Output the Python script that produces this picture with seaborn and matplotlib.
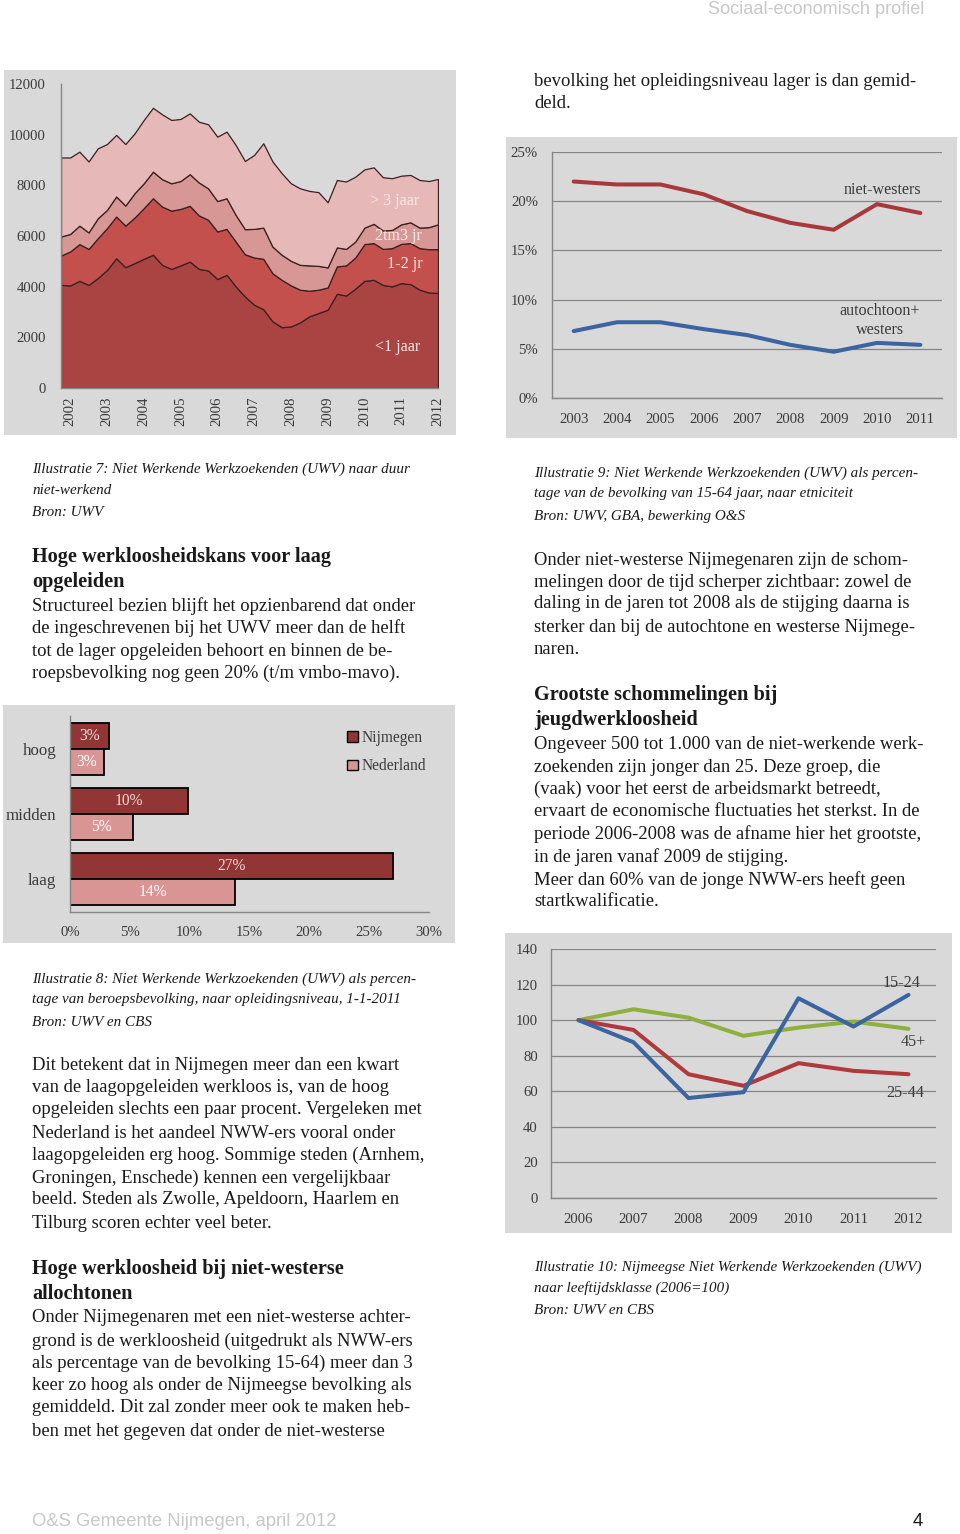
import numpy as np
import pandas as pd
import matplotlib
matplotlib.use("Agg")
import matplotlib.pyplot as plt
from matplotlib.patches import Rectangle, Patch
from matplotlib.ticker import FixedLocator
import seaborn as sns

sns.set_style("white")
plt.rcParams['font.family'] = ['Liberation Serif', 'DejaVu Serif']

# ---------------- DATA ----------------
# Illustratie 7: quarterly, 2001.75 .. 2012.0
quarters = [2001.75 + 0.25 * i for i in range(42)]
lt1 = [4070, 4050, 4230, 4070, 4340, 4660, 5120, 4770, 4930, 5100, 5260, 4860, 4700, 4840,
       4990, 4700, 4640, 4300, 4470, 4010, 3610, 3290, 3110, 2630, 2400, 2430, 2590, 2830,
       2960, 3090, 3720, 3650, 3920, 4230, 4270, 4070, 4010, 4140, 4100, 3880, 3770, 3750]
jr12 = [1160, 1340, 1450, 1420, 1570, 1650, 1650, 1640, 1800, 2000, 2230, 2300, 2300, 2230,
        2200, 2110, 2000, 1880, 1810, 1770, 1670, 1860, 1990, 1900, 1870, 1620, 1290, 1010,
        920, 880, 1080, 1190, 1230, 1450, 1450, 1420, 1510, 1550, 1620, 1640, 1710, 1730]
jr23 = [750, 690, 730, 650, 790, 720, 790, 790, 960, 980, 1050, 1080, 1080, 1100, 1250, 1300,
        1240, 1200, 1210, 1050, 990, 1130, 1230, 1050, 990, 970, 980, 1000, 940, 790, 750, 650,
        630, 650, 760, 730, 720, 770, 820, 810, 870, 980]
gt3 = [3120, 3020, 2920, 2800, 2760, 2600, 2430, 2430, 2360, 2500, 2520, 2560, 2500, 2450,
       2400, 2400, 2530, 2540, 2630, 2760, 2690, 2920, 3330, 3360, 3220, 3060, 3020, 2940,
       2910, 2570, 2660, 2660, 2560, 2300, 2230, 2100, 2040, 1920, 1870, 1880, 1820, 1790]
area_labels = ["<1 jaar", "1-2 jr", "2tm3 jr", "> 3 jaar"]
year_ticks1 = list(range(2002, 2013))

# Illustratie 9
years9 = ["2003", "2004", "2005", "2006", "2007", "2008", "2009", "2010", "2011"]
niet_westers = [22.0, 21.7, 21.7, 20.7, 19.0, 17.8, 17.1, 19.7, 18.8]
autochtoon_westers = [6.8, 7.7, 7.7, 7.0, 6.4, 5.4, 4.7, 5.6, 5.4]

# Illustratie 8
niveaus = ["hoog", "midden", "laag"]
nijmegen = [3.26, 9.9, 27.0]
nederland = [2.8, 5.24, 13.76]

# Illustratie 10
years10 = ["2006", "2007", "2008", "2009", "2010", "2011", "2012"]
age_15_24 = [100, 87.6, 56.2, 59.5, 112.3, 96.4, 114.2]
age_25_44 = [100, 94.5, 69.6, 63.1, 75.8, 71.5, 69.6]
age_45p = [100, 106.1, 101.4, 91.2, 95.8, 99.2, 95.1]

# ---------------- LAYOUT ----------------
W, H = 960, 1534
fig = plt.figure(figsize=(W / 100, H / 100), dpi=100)
fig.patch.set_facecolor("white")

PANEL = "#D9D9D9"
TICKC = "#3A3A3A"
AXC = "#868686"
TICKSIZE = 10.6
LABSIZE = 11.6


def bg(x0, y0, x1, y1):
    fig.patches.append(Rectangle((x0 / W, 1 - y1 / H), (x1 - x0) / W, (y1 - y0) / H,
                                 transform=fig.transFigure, facecolor=PANEL,
                                 edgecolor="none", zorder=-10))


def ax_at(x0, y0, x1, y1):
    a = fig.add_axes([x0 / W, 1 - y1 / H, (x1 - x0) / W, (y1 - y0) / H])
    a.set_facecolor("none")
    return a


def txt(x, y, s, **kw):
    kw.setdefault("va", "center")
    fig.text(x / W, 1 - y / H, s, **kw)


def style_axes(a):
    for s in ["top", "right"]:
        a.spines[s].set_visible(False)
    for s in ["left", "bottom"]:
        a.spines[s].set_color(AXC)
        a.spines[s].set_linewidth(1.0)
    a.tick_params(colors=AXC, labelcolor=TICKC, labelsize=TICKSIZE)


# ---------- Chart 1: stacked area ----------
bg(4, 70, 456, 435)
a1 = ax_at(61, 84, 438, 388)
cols1 = ["#AA4443", "#C4504E", "#D79794", "#E6B9B8"]
a1.stackplot(quarters, lt1, jr12, jr23, gt3, colors=cols1, edgecolor="#3A2020", linewidth=0.9)
a1.set_xlim(2001.75, 2012)
a1.set_ylim(0, 12000)
a1.set_yticks(range(0, 12001, 2000))
a1.set_xticks(year_ticks1)
a1.set_xticklabels([str(y) for y in year_ticks1], rotation=90)
style_axes(a1)
a1.tick_params(axis="both", length=3)
a1.tick_params(axis="y", pad=7.8)
a1.tick_params(axis="x", pad=3)
for lab, (xx, yy) in zip(area_labels, [(398, 347), (405, 264), (398, 236), (395, 201)]):
    txt(xx, yy, lab, ha="center", color="#F8E8E8", fontsize=LABSIZE)

# ---------- Chart 9: lines etniciteit ----------
bg(506, 137, 957, 438)
a9 = ax_at(552, 152, 942, 398)
x9 = np.arange(len(years9))
sns.lineplot(x=x9, y=niet_westers, ax=a9, color="#A8383A", linewidth=2.9)
sns.lineplot(x=x9, y=autochtoon_westers, ax=a9, color="#3B64A0", linewidth=2.9)
a9.set_xlim(-0.5, len(years9) - 0.5)
a9.set_ylim(0, 25)
a9.set_yticks(range(0, 26, 5))
a9.set_yticklabels([f"{v}%" for v in range(0, 26, 5)])
a9.set_xticks(x9)
a9.set_xticklabels(years9)
a9.xaxis.set_minor_locator(FixedLocator(np.arange(-0.5, len(years9), 1.0)))
a9.yaxis.grid(True, color=AXC, linewidth=0.9)
a9.set_axisbelow(True)
style_axes(a9)
a9.tick_params(axis="x", which="major", length=0, pad=11)
a9.tick_params(axis="x", which="minor", length=4, color=AXC, direction="out")
a9.tick_params(axis="y", length=4, pad=6.1)
txt(882, 190, "niet-westers", ha="center", color=TICKC, fontsize=LABSIZE)
txt(880, 311, "autochtoon+", ha="center", color=TICKC, fontsize=LABSIZE)
txt(880, 330, "westers", ha="center", color=TICKC, fontsize=LABSIZE)

# ---------- Chart 8: bars opleidingsniveau ----------
bg(3, 705, 455, 943)
a8 = ax_at(70, 716, 429, 912)
df8 = pd.DataFrame({
    "niveau": niveaus * 2,
    "pct": nijmegen + nederland,
    "gebied": ["Nijmegen"] * 3 + ["Nederland"] * 3,
})
c_nij, c_ned = "#923535", "#D99594"
sns.barplot(data=df8, y="niveau", x="pct", hue="gebied", orient="h", ax=a8,
            palette=[c_nij, c_ned], edgecolor="black", linewidth=1.3, legend=False,
            width=0.8, saturation=1)
for cont, vals, lc in zip(a8.containers, [nijmegen, nederland], ["#F2DCDB", "#FFFFFF"]):
    a8.bar_label(cont, labels=[f"{round(v)}%" for v in vals], label_type="center",
                 color=lc, fontsize=11.2)
a8.set_xlim(0, 30)
a8.set_ylim(2.5, -0.5)
a8.set_xticks(range(0, 31, 5))
a8.set_xticklabels([f"{v}%" for v in range(0, 31, 5)])
a8.set_yticks([0, 1, 2])
a8.set_yticklabels(niveaus)
a8.yaxis.set_minor_locator(FixedLocator([-0.5, 0.5, 1.5, 2.5]))
a8.set_xlabel("")
a8.set_ylabel("")
style_axes(a8)
a8.tick_params(axis="y", which="major", length=0, pad=10, labelsize=12.2)
a8.tick_params(axis="y", which="minor", length=4, color=AXC)
a8.tick_params(axis="x", length=4, pad=6)
handles = [Patch(facecolor=c_nij, edgecolor="black", label="Nijmegen"),
           Patch(facecolor=c_ned, edgecolor="black", label="Nederland")]
a8.legend(handles=handles, loc="upper right", bbox_to_anchor=(1.03, 1.0), frameon=False,
          fontsize=11.2, handlelength=0.7, handleheight=0.7, handletextpad=0.2,
          labelspacing=0.8, labelcolor=TICKC)

# ---------- Chart 10: lines leeftijd ----------
bg(505, 933, 952, 1233)
a10 = ax_at(551, 949, 936, 1198)
x10 = np.arange(len(years10))
sns.lineplot(x=x10, y=age_45p, ax=a10, color="#8DB03E", linewidth=2.9)
sns.lineplot(x=x10, y=age_25_44, ax=a10, color="#B0393B", linewidth=2.9)
sns.lineplot(x=x10, y=age_15_24, ax=a10, color="#3B64A0", linewidth=2.9)
a10.set_xlim(-0.5, len(years10) - 0.5)
a10.set_ylim(0, 140)
a10.set_yticks(range(0, 141, 20))
a10.set_xticks(x10)
a10.set_xticklabels(years10)
a10.xaxis.set_minor_locator(FixedLocator(np.arange(-0.5, len(years10), 1.0)))
a10.yaxis.grid(True, color=AXC, linewidth=0.9)
a10.set_axisbelow(True)
style_axes(a10)
a10.tick_params(axis="x", which="major", length=0, pad=11)
a10.tick_params(axis="x", which="minor", length=4, color=AXC, direction="out")
a10.tick_params(axis="y", length=4, pad=5.4)
txt(901, 983, "15-24", ha="center", color=TICKC, fontsize=LABSIZE)
txt(913, 1042, "45+", ha="center", color=TICKC, fontsize=LABSIZE)
txt(905, 1093, "25-44", ha="center", color=TICKC, fontsize=LABSIZE)

# ---------------- PAGE TEXT ----------------
BODY = dict(fontsize=13.4, color="#1A1A1A")
HEAD = dict(fontsize=14.6, color="#1A1A1A", fontweight="bold")
CAP = dict(fontsize=10.9, color="#1A1A1A", style="italic")


def block(x, ys, lines, style):
    for yy, s in zip(ys, lines):
        txt(x, yy, s, ha="left", **style)


LX, RX = 32, 534
block(LX, [469, 491, 513], ["Illustratie 7: Niet Werkende Werkzoekenden (UWV) naar duur",
                            "niet-werkend", "Bron: UWV"], CAP)
block(LX, [557, 582], ["Hoge werkloosheidskans voor laag", "opgeleiden"], HEAD)
block(LX, [606, 628, 651, 673], ["Structureel bezien blijft het opzienbarend dat onder",
                                 "de ingeschrevenen bij het UWV meer dan de helft",
                                 "tot de lager opgeleiden behoort en binnen de be-",
                                 "roepsbevolking nog geen 20% (t/m vmbo-mavo)."], BODY)
block(LX, [979, 1000, 1022], ["Illustratie 8: Niet Werkende Werkzoekenden (UWV) als percen-",
                              "tage van beroepsbevolking, naar opleidingsniveau, 1-1-2011",
                              "Bron: UWV en CBS"], CAP)
block(LX, [1066, 1088, 1110, 1133, 1155, 1178, 1200, 1223],
      ["Dit betekent dat in Nijmegen meer dan een kwart",
       "van de laagopgeleiden werkloos is, van de hoog",
       "opgeleiden slechts een paar procent. Vergeleken met",
       "Nederland is het aandeel NWW-ers vooral onder",
       "laagopgeleiden erg hoog. Sommige steden (Arnhem,",
       "Groningen, Enschede) kennen een vergelijkbaar",
       "beeld. Steden als Zwolle, Apeldoorn, Haarlem en",
       "Tilburg scoren echter veel beter."], BODY)
block(LX, [1269, 1294], ["Hoge werkloosheid bij niet-westerse", "allochtonen"], HEAD)
block(LX, [1318, 1341, 1363, 1386, 1408, 1431],
      ["Onder Nijmegenaren met een niet-westerse achter-",
       "grond is de werkloosheid (uitgedrukt als NWW-ers",
       "als percentage van de bevolking 15-64) meer dan 3",
       "keer zo hoog als onder de Nijmeegse bevolking als",
       "gemiddeld. Dit zal zonder meer ook te maken heb-",
       "ben met het gegeven dat onder de niet-westerse"], BODY)

block(RX, [82, 104], ["bevolking het opleidingsniveau lager is dan gemid-", "deld."], BODY)
block(RX, [473, 494, 516], ["Illustratie 9: Niet Werkende Werkzoekenden (UWV) als percen-",
                            "tage van de bevolking van 15-64 jaar, naar etniciteit",
                            "Bron: UWV, GBA, bewerking O&S"], CAP)
block(RX, [560, 582, 604, 627, 650],
      ["Onder niet-westerse Nijmegenaren zijn de schom-",
       "melingen door de tijd scherper zichtbaar: zowel de",
       "daling in de jaren tot 2008 als de stijging daarna is",
       "sterker dan bij de autochtone en westerse Nijmege-",
       "naren."], BODY)
block(RX, [695, 720], ["Grootste schommelingen bij", "jeugdwerkloosheid"], HEAD)
block(RX, [744, 767, 789, 812, 834, 857, 880, 902],
      ["Ongeveer 500 tot 1.000 van de niet-werkende werk-",
       "zoekenden zijn jonger dan 25. Deze groep, die",
       "(vaak) voor het eerst de arbeidsmarkt betreedt,",
       "ervaart de economische fluctuaties het sterkst. In de",
       "periode 2006-2008 was de afname hier het grootste,",
       "in de jaren vanaf 2009 de stijging.",
       "Meer dan 60% van de jonge NWW-ers heeft geen",
       "startkwalificatie."], BODY)
block(RX, [1267, 1288, 1310], ["Illustratie 10: Nijmeegse Niet Werkende Werkzoekenden (UWV)",
                               "naar leeftijdsklasse (2006=100)", "Bron: UWV en CBS"], CAP)

SANS = ["Liberation Sans", "DejaVu Sans"]
txt(924, 10, "Sociaal-economisch profiel", ha="right", color="#C8C8C8", fontsize=13.1, family=SANS)
txt(32, 1522, "O&S Gemeente Nijmegen, april 2012", ha="left", color="#C8C8C8", fontsize=13.3,
    family=SANS)
txt(923, 1522, "4", ha="right", color="#1A1A1A", fontsize=13.3, family=SANS)

fig.savefig("out.png", dpi=100, facecolor="white")
